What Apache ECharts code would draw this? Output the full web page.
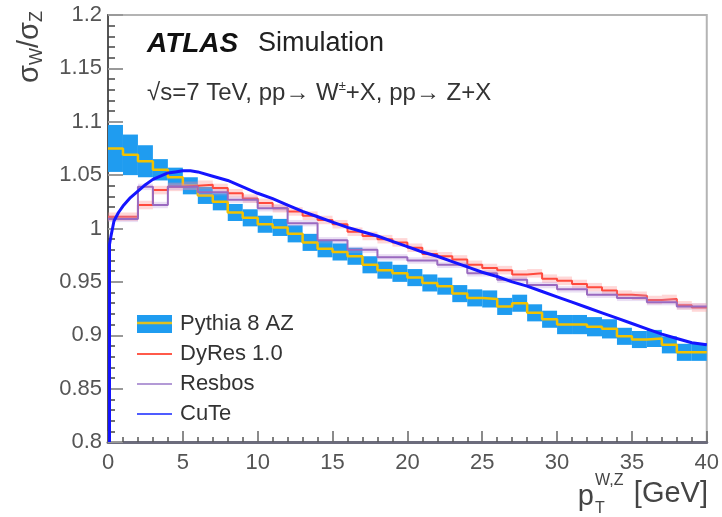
<!DOCTYPE html>
<html>
<head>
<meta charset="utf-8">
<script src="https://cdn.jsdelivr.net/npm/echarts@6/dist/echarts.min.js"></script>
<style>
html, body { margin: 0; padding: 0; background: #fff; }
#myChart { width: 722px; height: 517px; }
</style>
</head>
<body>
<div id="myChart"></div>
<script>
// 1 GeV bins from 0 to 40 GeV, value = sigma_W / sigma_Z in each bin
const pythia = [1.075, 1.069, 1.063, 1.055, 1.048, 1.040, 1.031, 1.025, 1.015, 1.010,
  1.004, 1.001, 0.995, 0.987, 0.981, 0.978, 0.974, 0.966, 0.961, 0.958,
  0.954, 0.949, 0.946, 0.939, 0.935, 0.934, 0.927, 0.930, 0.921, 0.915,
  0.910, 0.910, 0.908, 0.906, 0.899, 0.896, 0.897, 0.891, 0.884, 0.884]
const pythiaErr = [0.022, 0.019, 0.015, 0.010, 0.009, 0.008, 0.008, 0.008, 0.008, 0.008,
  0.008, 0.008, 0.008, 0.008, 0.008, 0.008, 0.008, 0.008, 0.008, 0.008,
  0.008, 0.008, 0.008, 0.008, 0.008, 0.008, 0.008, 0.008, 0.008, 0.008,
  0.009, 0.009, 0.009, 0.009, 0.008, 0.008, 0.008, 0.008, 0.008, 0.008]
const dyres = [1.011, 1.011, 1.022, 1.036, 1.039, 1.040, 1.041, 1.038, 1.033, 1.028,
  1.024, 1.019, 1.016, 1.012, 1.008, 1.004, 0.997, 0.993, 0.990, 0.987,
  0.982, 0.976, 0.974, 0.971, 0.966, 0.963, 0.961, 0.957, 0.958, 0.953,
  0.951, 0.948, 0.945, 0.942, 0.938, 0.937, 0.933, 0.934, 0.928, 0.926]
const dyresErr = 0.004
const resbos = [1.009, 1.009, 1.039, 1.022, 1.039, 1.039, 1.034, 1.034, 1.027, 1.027,
  1.019, 1.019, 1.005, 1.005, 0.989, 0.989, 0.980, 0.980, 0.973, 0.973,
  0.970, 0.970, 0.966, 0.966, 0.958, 0.958, 0.952, 0.952, 0.947, 0.947,
  0.943, 0.943, 0.938, 0.938, 0.935, 0.935, 0.931, 0.931, 0.927, 0.927]
const resbosErr = 0.003
// CuTe is a fine curve
const cuteX = [0.1, 0.1, 0.2, 0.4, 0.7, 1, 1.5, 2, 2.5, 3, 3.5, 4, 4.5, 5, 5.5, 6, 7, 8, 9, 10,
  11, 12, 13, 14, 15, 16, 17, 18, 19, 20, 21, 22, 23, 24, 25, 26, 27, 28, 29, 30,
  31, 32, 33, 34, 35, 36, 37, 38, 39, 40]
const cuteY = [0.800, 0.985, 0.993, 1.007, 1.015, 1.021, 1.029, 1.035, 1.041, 1.046, 1.049, 1.052, 1.053, 1.054, 1.054, 1.053, 1.049, 1.045, 1.039, 1.033,
  1.028, 1.022, 1.016, 1.011, 1.006, 1.001, 0.997, 0.993, 0.988, 0.983, 0.978, 0.974, 0.969, 0.964, 0.959, 0.955, 0.950, 0.946, 0.941, 0.936,
  0.931, 0.926, 0.921, 0.916, 0.911, 0.906, 0.901, 0.897, 0.893, 0.891]
// axes
const xMin = 0, xMax = 40, xStep = 5
const yMin = 0.8, yMax = 1.2, yStep = 0.05

const FONT = '"Liberation Sans", Arial, Helvetica, sans-serif'
const LINE_ICON = 'path://M0,0L100,0L100,6L0,6Z'

// histogram -> step line points (bin low edge, value) + closing edge
function stepData(vals) {
  const d = vals.map((v, i) => [i, v])
  d.push([vals.length, vals[vals.length - 1]])
  return d
}
// histogram -> band boxes [x0, x1, lo, hi]
function bandData(vals, err) {
  return vals.map((v, i) => {
    const e = Array.isArray(err) ? err[i] : err
    return [i, i + 1, v - e, v + e]
  })
}
function bandRender(color) {
  return function (params, api) {
    const p0 = api.coord([api.value(0), api.value(3)])
    const p1 = api.coord([api.value(1), api.value(2)])
    return {
      type: 'rect',
      shape: { x: p0[0], y: p0[1], width: p1[0] - p0[0], height: p1[1] - p0[1] },
      style: { fill: color }
    }
  }
}

const myChart = echarts.init(document.getElementById('myChart'))
const option = {
  animation: false,
  grid: {
    left: 108, right: 15, top: 15, bottom: 75,
    show: true, borderColor: '#b4b4b4', borderWidth: 2
  },
  legend: {
    orient: 'vertical',
    left: 137, top: 313, padding: 0,
    itemWidth: 35, itemHeight: 18, itemGap: 8,
    textStyle: { fontFamily: FONT, fontSize: 22, color: '#333', padding: [0, 0, 0, 3] },
    data: [
      { name: 'Pythia 8 AZ', icon: 'rect', itemStyle: { color: '#1f9cf0' } },
      { name: 'DyRes 1.0', icon: LINE_ICON, itemStyle: { color: '#ff5a4a' } },
      { name: 'Resbos', icon: LINE_ICON, itemStyle: { color: '#b39ad6' } },
      { name: 'CuTe', icon: LINE_ICON, itemStyle: { color: '#4f5cff' } }
    ]
  },
  xAxis: {
    type: 'value', min: xMin, max: xMax, interval: xStep,
    axisLine: { lineStyle: { color: '#6c6c7c', width: 3 } },
    axisTick: { inside: true, length: 11, lineStyle: { color: '#666', width: 1.5 } },
    minorTick: { show: true, splitNumber: 5, length: 5, lineStyle: { color: '#555', width: 1.5 } },
    splitLine: { show: false },
    axisLabel: { fontFamily: FONT, fontSize: 22, color: '#555', margin: 10 }
  },
  yAxis: {
    type: 'value', min: yMin, max: yMax, interval: yStep,
    axisLine: { show: true, lineStyle: { color: '#555', width: 2 } },
    axisTick: { show: true, inside: true, length: 15, lineStyle: { color: '#999', width: 2 } },
    minorTick: { show: true, splitNumber: 5, length: 7, lineStyle: { color: '#444', width: 1.5 } },
    splitLine: { show: false },
    axisLabel: {
      fontFamily: FONT, fontSize: 22, color: '#555', margin: 6,
      formatter: v => String(parseFloat(v.toFixed(2)))
    }
  },
  series: [
    {
      name: 'Pythia 8 AZ', type: 'custom', z: 1,
      renderItem: bandRender('#1f9cf0'),
      encode: { x: [0, 1], y: [2, 3] },
      data: bandData(pythia, pythiaErr)
    },
    {
      name: 'Pythia 8 AZ central', type: 'line', step: 'end', z: 2,
      symbol: 'none', lineStyle: { color: '#f2c200', width: 2.5 },
      data: stepData(pythia)
    },
    {
      name: 'DyRes band', type: 'custom', z: 3,
      renderItem: bandRender('rgba(255,140,140,0.35)'),
      encode: { x: [0, 1], y: [2, 3] },
      data: bandData(dyres, dyresErr)
    },
    {
      name: 'DyRes 1.0', type: 'line', step: 'end', z: 4,
      symbol: 'none', itemStyle: { color: '#ff4a3d' },
      lineStyle: { color: '#ff4a3d', width: 2 },
      data: stepData(dyres)
    },
    {
      name: 'Resbos band', type: 'custom', z: 5,
      renderItem: bandRender('rgba(185,150,220,0.3)'),
      encode: { x: [0, 1], y: [2, 3] },
      data: bandData(resbos, resbosErr)
    },
    {
      name: 'Resbos', type: 'line', step: 'end', z: 6,
      symbol: 'none', itemStyle: { color: '#9a6ac0' },
      lineStyle: { color: '#9a6ac0', width: 2 },
      data: stepData(resbos)
    },
    {
      name: 'CuTe', type: 'line', z: 7,
      symbol: 'none', itemStyle: { color: '#1414ff' },
      lineStyle: { color: '#1414ff', width: 3 },
      data: cuteX.map((x, i) => [x, cuteY[i]])
    }
  ],
  graphic: [
    // yellow stripe on the Pythia legend box
    { type: 'line', shape: { x1: 137, y1: 323, x2: 172, y2: 323 }, style: { stroke: '#e0c020', lineWidth: 2.5 }, z: 100 },
    {
      type: 'text', x: 147, y: 44, z: 100,
      style: { text: 'ATLAS', fontFamily: FONT, fontSize: 28, fontWeight: 'bold', fontStyle: 'italic', fill: '#111', verticalAlign: 'middle' }
    },
    {
      type: 'text', x: 258, y: 44, z: 100,
      style: { text: 'Simulation', fontFamily: FONT, fontSize: 27, fill: '#222', verticalAlign: 'middle' }
    },
    {
      type: 'text', x: 147, y: 93, z: 100,
      style: {
        text: '√s=7 TeV, pp→ W{sup|±}+X, pp→ Z+X',
        fontFamily: FONT, fontSize: 24, fill: '#333', verticalAlign: 'middle', lineHeight: 26,
        rich: { sup: { fontFamily: FONT, fontSize: 13, fill: '#333', verticalAlign: 'top', lineHeight: 13 } }
      }
    },
    // y axis title sigma_W / sigma_Z
    {
      type: 'text', x: 30, y: 47, rotation: Math.PI / 2, z: 100,
      style: {
        text: '{m|σ}{s|W}{m|/σ}{s|Z}',
        align: 'center', verticalAlign: 'middle',
        rich: {
          m: { fontFamily: FONT, fontSize: 29, fill: '#444', lineHeight: 32, verticalAlign: 'middle' },
          s: { fontFamily: FONT, fontSize: 18, fill: '#444', lineHeight: 18, verticalAlign: 'bottom' }
        }
      }
    },
    // x axis title p_T^{W,Z} [GeV]
    {
      type: 'text', x: 708, y: 494, z: 100,
      style: { text: '[GeV]', fontFamily: FONT, fontSize: 29, fill: '#444', align: 'right', verticalAlign: 'middle' }
    },
    {
      type: 'text', x: 594, y: 497, z: 100,
      style: { text: 'p', fontFamily: FONT, fontSize: 29, fill: '#444', align: 'right', verticalAlign: 'middle' }
    },
    {
      type: 'text', x: 595, y: 509, z: 100,
      style: { text: 'T', fontFamily: FONT, fontSize: 16, fill: '#444', align: 'left', verticalAlign: 'middle' }
    },
    {
      type: 'text', x: 595, y: 481, z: 100,
      style: { text: 'W,Z', fontFamily: FONT, fontSize: 16, fill: '#444', align: 'left', verticalAlign: 'middle' }
    }
  ]
}
myChart.setOption(option)
</script>
</body>
</html>
